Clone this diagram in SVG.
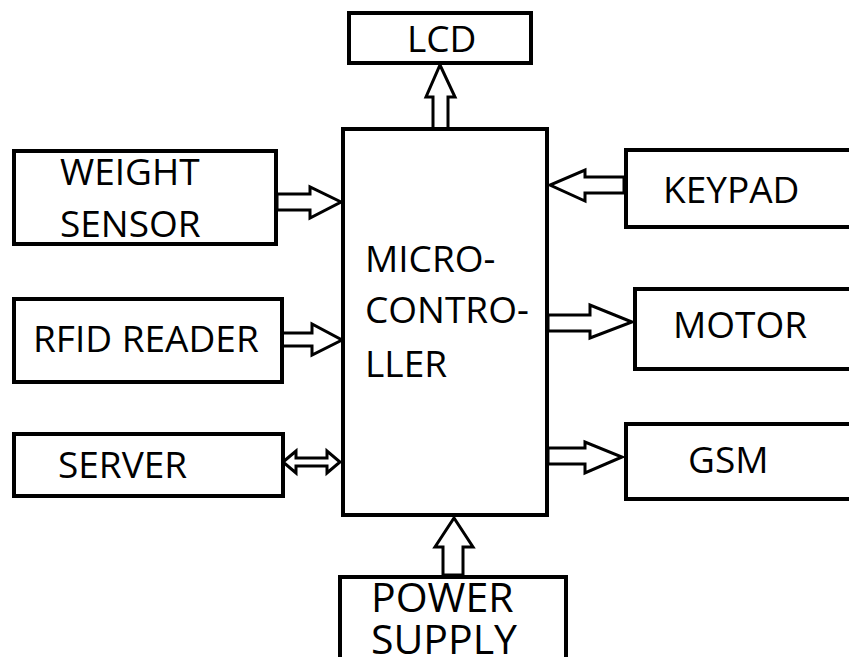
<svg xmlns="http://www.w3.org/2000/svg" width="849" height="657" viewBox="0 0 849 657">
<style>
.box{fill:#fff;stroke:#000;stroke-width:4}
.arr{fill:#fff;stroke:#000;stroke-width:3;stroke-linejoin:miter}
text{font-family:"Open Sans","Liberation Sans",sans-serif;font-size:37px;fill:#000}
.big{font-size:41px}
</style>
<rect width="849" height="657" fill="#fff"/>
<g id="connectors">
<polygon class="arr" points="433,130 433,97 426,97 440,65 455,97 448,97 448,130"/>
<polygon class="arr" points="277,194 310,194 310,187 341,202 310,218 310,210 277,210"/>
<polygon class="arr" points="624,177 585,177 585,170 550,185 585,201 585,193 624,193"/>
<polygon class="arr" points="282,333 312,333 312,324 342,340 312,355 312,346 282,346"/>
<polygon class="arr" points="283,462 296,451 296,458 327,458 327,451 340,462 327,473 327,466 296,466 296,473"/>
<polygon class="arr" points="548,315 590,315 590,305 632,322 590,338 590,331 548,331"/>
<polygon class="arr" points="548,448 585,448 585,442 622,457 585,473 585,464 548,464"/>
<polygon class="arr" points="443,575 443,547 435,547 454,518 473,547 463,547 463,575"/>
</g>
<g id="lcd"><rect class="box" x="349" y="13" width="182" height="50"/><text x="407" y="52">LCD</text></g>
<g id="microcontroller"><rect class="box" x="343" y="129" width="204" height="386"/>
<text x="365" y="272">MICRO-</text><text x="365" y="323">CONTRO-</text><text x="365" y="377">LLER</text></g>
<g id="weight-sensor"><rect class="box" x="14" y="151" width="262" height="93"/><text x="60" y="185">WEIGHT</text><text x="60" y="237">SENSOR</text></g>
<g id="keypad"><rect class="box" x="626" y="150" width="240" height="77"/><text x="663" y="203">KEYPAD</text></g>
<g id="rfid-reader"><rect class="box" x="14" y="299" width="268" height="83"/><text x="33" y="352">RFID READER</text></g>
<g id="motor"><rect class="box" x="635" y="289" width="240" height="80"/><text x="673" y="338">MOTOR</text></g>
<g id="server"><rect class="box" x="14" y="434" width="269" height="62"/><text x="58" y="478">SERVER</text></g>
<g id="gsm"><rect class="box" x="626" y="424" width="240" height="75"/><text x="688" y="473">GSM</text></g>
<g id="power-supply"><rect class="box" x="340" y="577" width="226" height="100"/><text class="big" x="371" y="612">POWER</text><text class="big" x="371" y="654">SUPPLY</text></g>
</svg>
